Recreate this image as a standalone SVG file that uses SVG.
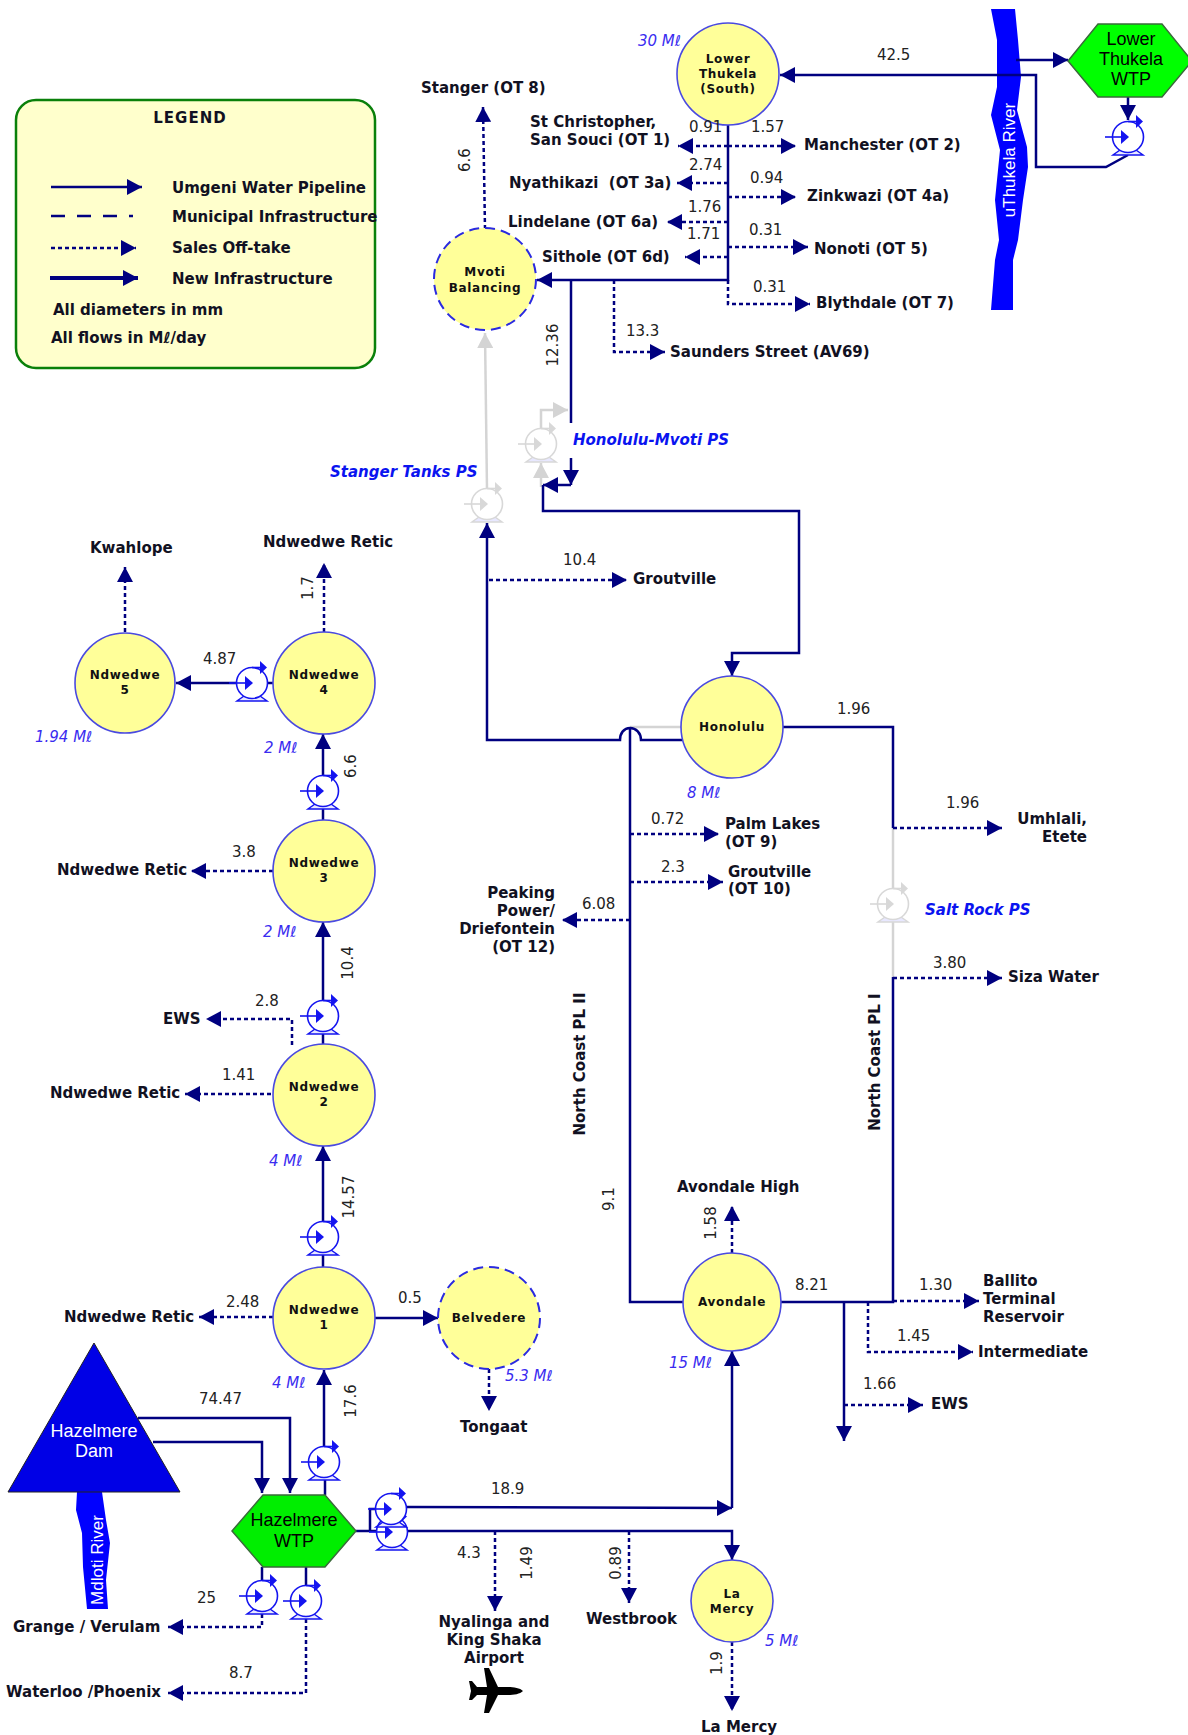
<svg xmlns="http://www.w3.org/2000/svg" xmlns:xlink="http://www.w3.org/1999/xlink" width="1188" height="1735" viewBox="0 0 1188 1735">
<style>
text{font-family:"DejaVu Sans","Liberation Sans",sans-serif}
.l{font-weight:bold;font-size:15px;fill:#111122}
.nl{font-weight:bold;font-size:12px;fill:#111;text-anchor:middle;letter-spacing:.7px}
.n{font-size:15px;fill:#222}
.nr{font-size:15px;fill:#222;text-anchor:middle}
.v{font-style:italic;font-size:15px;fill:#3a2cf0}
.ps{font-style:italic;font-weight:bold;font-size:15px;fill:#0a14f0}
.hx{font-family:"Liberation Sans",Arial,sans-serif;font-size:18px;fill:#000;text-anchor:middle}
.wh{font-family:"Liberation Sans",Arial,sans-serif;font-size:18px;fill:#fff;text-anchor:middle}
.s{fill:none;stroke:#000080;stroke-width:2.5}
.t{fill:none;stroke:#000080;stroke-width:4}
.d{fill:none;stroke:#000080;stroke-width:2.5;stroke-dasharray:4 3}
.g{fill:none;stroke:#d4d4d4;stroke-width:2.5}
.res{fill:#ffff99;stroke:#4a4ae0;stroke-width:1.6}
.resd{fill:#ffff99;stroke:#2a2ae0;stroke-width:2;stroke-dasharray:10 6}
.pb{color:#1414f0}
.pg{color:#d8d8d8}
</style>
<defs>
<marker id="a" markerUnits="userSpaceOnUse" markerWidth="16" markerHeight="16" refX="15" refY="8" orient="auto"><path d="M0,0L15,8L0,16Z" fill="#000080"/></marker>
<marker id="ag" markerUnits="userSpaceOnUse" markerWidth="16" markerHeight="16" refX="15" refY="8" orient="auto"><path d="M0,0L15,8L0,16Z" fill="#d4d4d4"/></marker>
<g id="pump">
<path d="M-8,13L-15,18H15L8,13" fill="#e8e8ff" stroke="currentColor" stroke-width="1.5"/>
<circle r="15.5" fill="#fff" stroke="currentColor" stroke-width="1.6"/>
<path d="M-23,0H-5" stroke="currentColor" stroke-width="1.6" fill="none"/>
<path d="M-7,-7L1,0L-7,7Z" fill="currentColor"/>
<path d="M0,-15.5H9" stroke="currentColor" stroke-width="1.6" fill="none"/>
<path d="M8,-22L15,-15.5L8,-9Z" fill="currentColor"/>
</g>
</defs>
<rect width="1188" height="1735" fill="#fff"/>

<g id="river-uthukela"><path d="M991,9L997,40L997,87L991,115L1000,150L995,200L999,240L995,260L991,310L1013,310L1013,260L1018,240L1023,200L1028,167L1027,147L1017,110L1021,77L1018,40L1015,9Z" fill="#0000ff"/><text transform="rotate(-90 1015 160)" x="1015" y="160" style="font-family:'Liberation Sans',sans-serif;font-size:17px;fill:#fff;text-anchor:middle">uThukela River</text></g>
<g id="river-mdloti"><path d="M77,1492L76,1510L82,1533L83,1567L87,1609L108,1609L106,1580L110,1543L106,1520L102,1492Z" fill="#0000ff"/><text transform="rotate(-90 103 1560)" x="103" y="1560" style="font-family:'Liberation Sans',sans-serif;font-size:17px;fill:#fff;text-anchor:middle">Mdloti River</text></g>

<g id="connectors">
<path class="g" d="M487,490L485,333" marker-end="url(#ag)"/>
<path class="g" d="M541,429V410H568" marker-end="url(#ag)"/>
<path class="g" d="M541,487V463" marker-end="url(#ag)"/>
<path class="g" d="M630,727H682"/>
<path class="g" d="M893,828V977"/>
<path class="s" d="M728,125V280H537" marker-end="url(#a)"/>
<path class="s" d="M571,280V423"/>
<path class="s" d="M571,458V485" marker-end="url(#a)"/>
<path class="s" d="M571,485H543" marker-end="url(#a)"/>
<path class="s" d="M543,485V511H799V653H732V676" marker-end="url(#a)"/>
<path class="s" d="M682,740H641C641,733 636,728 630,728C624,728 620,733 620,740H487V523" marker-end="url(#a)"/>
<path class="s" d="M630,727V1302H686"/>
<path class="s" d="M783,727H893V828"/>
<path class="s" d="M893,977V1302H781"/>
<path class="s" d="M844,1302V1441" marker-end="url(#a)"/>
<path class="s" d="M1016,60H1068" marker-end="url(#a)"/>
<path class="s" d="M1128,97V120" marker-end="url(#a)"/>
<path class="s" d="M1128,155L1106,167H1036V75H780" marker-end="url(#a)"/>
<path class="s" d="M138,1418H290V1493" marker-end="url(#a)"/>
<path class="s" d="M153,1442H262V1493" marker-end="url(#a)"/>
<path class="s" d="M325,1495V1480"/>
<path class="s" d="M324,1447V1370" marker-end="url(#a)"/>
<path class="s" d="M356,1531H732V1560" marker-end="url(#a)"/>
<path class="s" d="M370,1531V1509H384"/>
<path class="s" d="M406,1507L732,1508" marker-end="url(#a)"/>
<path class="s" d="M732,1508V1351" marker-end="url(#a)"/>
<path class="s" d="M262,1567V1581"/>
<path class="s" d="M306,1567V1586"/>
<path class="s" d="M237,683H176" marker-end="url(#a)"/>
<path class="s" d="M273,683H267"/>
<path class="s" d="M323,776V734" marker-end="url(#a)"/>
<path class="s" d="M323,809V820"/>
<path class="s" d="M323,1001V922" marker-end="url(#a)"/>
<path class="s" d="M323,1034V1044"/>
<path class="s" d="M323,1222V1146" marker-end="url(#a)"/>
<path class="s" d="M323,1255V1267"/>
<path class="s" d="M375,1318H438" marker-end="url(#a)"/>
<path class="d" d="M728,146H678" marker-end="url(#a)"/>
<path class="d" d="M728,146H796" marker-end="url(#a)"/>
<path class="d" d="M728,183H677" marker-end="url(#a)"/>
<path class="d" d="M728,197H796" marker-end="url(#a)"/>
<path class="d" d="M728,222H667" marker-end="url(#a)"/>
<path class="d" d="M728,257H685" marker-end="url(#a)"/>
<path class="d" d="M728,247H808" marker-end="url(#a)"/>
<path class="d" d="M728,280V304H810" marker-end="url(#a)"/>
<path class="d" d="M614,280V352H665" marker-end="url(#a)"/>
<path class="d" d="M485,229L483,107" marker-end="url(#a)"/>
<path class="d" d="M489,580H627" marker-end="url(#a)"/>
<path class="d" d="M324,632V563" marker-end="url(#a)"/>
<path class="d" d="M125,632V567" marker-end="url(#a)"/>
<path class="d" d="M273,871H191" marker-end="url(#a)"/>
<path class="d" d="M292,1045V1019H206" marker-end="url(#a)"/>
<path class="d" d="M271,1094H185" marker-end="url(#a)"/>
<path class="d" d="M273,1317H199" marker-end="url(#a)"/>
<path class="d" d="M489,1369V1411" marker-end="url(#a)"/>
<path class="d" d="M732,1253V1206" marker-end="url(#a)"/>
<path class="d" d="M630,834H719" marker-end="url(#a)"/>
<path class="d" d="M630,882H723" marker-end="url(#a)"/>
<path class="d" d="M630,920H562" marker-end="url(#a)"/>
<path class="d" d="M893,828H1002" marker-end="url(#a)"/>
<path class="d" d="M893,978H1002" marker-end="url(#a)"/>
<path class="d" d="M893,1301H979" marker-end="url(#a)"/>
<path class="d" d="M868,1302V1352H973" marker-end="url(#a)"/>
<path class="d" d="M844,1405H923" marker-end="url(#a)"/>
<path class="d" d="M495,1531V1611" marker-end="url(#a)"/>
<path class="d" d="M629,1531V1603" marker-end="url(#a)"/>
<path class="d" d="M732,1642V1711" marker-end="url(#a)"/>
<path class="d" d="M262,1614V1627H168" marker-end="url(#a)"/>
<path class="d" d="M306,1619V1693H168" marker-end="url(#a)"/>
</g>

<g id="pumps">
<use xlink:href="#pump" href="#pump" class="pb" x="1128" y="137"/>
<use xlink:href="#pump" href="#pump" class="pg" x="541" y="444"/>
<use xlink:href="#pump" href="#pump" class="pg" x="487" y="504"/>
<use xlink:href="#pump" href="#pump" class="pg" x="893" y="904"/>
<use xlink:href="#pump" href="#pump" class="pb" x="252" y="683"/>
<use xlink:href="#pump" href="#pump" class="pb" x="323" y="791"/>
<use xlink:href="#pump" href="#pump" class="pb" x="323" y="1016"/>
<use xlink:href="#pump" href="#pump" class="pb" x="323" y="1237"/>
<use xlink:href="#pump" href="#pump" class="pb" x="324" y="1462"/>
<use xlink:href="#pump" href="#pump" class="pb" x="392" y="1532"/>
<use xlink:href="#pump" href="#pump" class="pb" x="391" y="1509"/>
<use xlink:href="#pump" href="#pump" class="pb" x="262" y="1596"/>
<use xlink:href="#pump" href="#pump" class="pb" x="306" y="1601"/>
</g>

<g id="legend">
<rect x="16" y="100" width="359" height="268" rx="20" fill="#ffffcc" stroke="#0a800a" stroke-width="2.5"/>
<path class="s" d="M51,187H142" marker-end="url(#a)"/>
<path class="s" d="M51,216H133" stroke-dasharray="14 12"/>
<path class="d" d="M51,248H136" marker-end="url(#a)"/>
<path class="t" d="M50,278H138" marker-end="url(#a)"/>
<text class="l" x="190" y="123" text-anchor="middle" letter-spacing="1">LEGEND</text>
<text class="l" x="172" y="193">Umgeni Water Pipeline</text>
<text class="l" x="172" y="222">Municipal Infrastructure</text>
<text class="l" x="172" y="253">Sales Off-take</text>
<text class="l" x="172" y="284">New Infrastructure</text>
<text class="l" x="53" y="315">All diameters in mm</text>
<text class="l" x="51" y="343">All flows in Mℓ/day</text>
</g>

<g id="node-lower-thukela"><circle class="res" cx="728" cy="74" r="51"/><text class="nl" x="728" y="63">Lower</text><text class="nl" x="728" y="78">Thukela</text><text class="nl" x="728" y="93">(South)</text></g>
<g id="node-mvoti"><circle class="resd" cx="485" cy="279" r="51"/><text class="nl" x="485" y="276">Mvoti</text><text class="nl" x="485" y="292">Balancing</text></g>
<g id="node-honolulu"><circle class="res" cx="732" cy="727" r="51"/><text class="nl" x="732" y="731">Honolulu</text></g>
<g id="node-ndwedwe-5"><circle class="res" cx="125" cy="683" r="50"/><text class="nl" x="125" y="679">Ndwedwe</text><text class="nl" x="125" y="694">5</text></g>
<g id="node-ndwedwe-4"><circle class="res" cx="324" cy="683" r="51"/><text class="nl" x="324" y="679">Ndwedwe</text><text class="nl" x="324" y="694">4</text></g>
<g id="node-ndwedwe-3"><circle class="res" cx="324" cy="871" r="51"/><text class="nl" x="324" y="867">Ndwedwe</text><text class="nl" x="324" y="882">3</text></g>
<g id="node-ndwedwe-2"><circle class="res" cx="324" cy="1095" r="51"/><text class="nl" x="324" y="1091">Ndwedwe</text><text class="nl" x="324" y="1106">2</text></g>
<g id="node-ndwedwe-1"><circle class="res" cx="324" cy="1318" r="51"/><text class="nl" x="324" y="1314">Ndwedwe</text><text class="nl" x="324" y="1329">1</text></g>
<g id="node-belvedere"><circle class="resd" cx="489" cy="1318" r="51"/><text class="nl" x="489" y="1322">Belvedere</text></g>
<g id="node-avondale"><circle class="res" cx="732" cy="1302" r="49"/><text class="nl" x="732" y="1306">Avondale</text></g>
<g id="node-la-mercy"><circle class="res" cx="732" cy="1601" r="41"/><text class="nl" x="732" y="1598">La</text><text class="nl" x="732" y="1613">Mercy</text></g>
<g id="node-lower-thukela-wtp"><path d="M1068,61L1098,24H1162L1192,61L1162,97H1098Z" fill="#00ff00" stroke="#3a6a3a" stroke-width="1.5"/><text class="hx" x="1131" y="45">Lower</text><text class="hx" x="1131" y="65">Thukela</text><text class="hx" x="1131" y="85">WTP</text></g>
<g id="node-hazelmere-wtp"><path d="M232,1531L263,1495H325L356,1531L325,1567H263Z" fill="#00ee00" stroke="#3a6a3a" stroke-width="1.5"/><text class="hx" x="294" y="1526">Hazelmere</text><text class="hx" x="294" y="1547">WTP</text></g>
<g id="node-hazelmere-dam"><path d="M94,1343L180,1492H8Z" fill="#0000e6" stroke="#222" stroke-width="1"/><text class="wh" x="94" y="1437">Hazelmere</text><text class="wh" x="94" y="1457">Dam</text></g>
<g id="airplane"><path d="M523,1691C520,1688 514,1687 508,1687H498L489,1668H484L487,1687H477L472,1681H469L471,1691L469,1700H472L477,1695H487L484,1713H489L498,1695H508C514,1695 520,1694 523,1691Z" fill="#000"/></g>

<g id="labels">
<text class="l" x="421" y="93">Stanger (OT 8)</text>
<text class="l" x="530" y="127">St Christopher,</text>
<text class="l" x="530" y="145">San Souci (OT 1)</text>
<text class="l" x="509" y="188">Nyathikazi &#160;(OT 3a)</text>
<text class="l" x="508" y="227">Lindelane (OT 6a)</text>
<text class="l" x="542" y="262">Sithole (OT 6d)</text>
<text class="l" x="804" y="150">Manchester (OT 2)</text>
<text class="l" x="807" y="201">Zinkwazi (OT 4a)</text>
<text class="l" x="814" y="254">Nonoti (OT 5)</text>
<text class="l" x="816" y="308">Blythdale (OT 7)</text>
<text class="l" x="670" y="357">Saunders Street (AV69)</text>
<text class="l" x="633" y="584">Groutville</text>
<text class="l" x="90" y="553">Kwahlope</text>
<text class="l" x="263" y="547">Ndwedwe Retic</text>
<text class="l" x="725" y="829">Palm Lakes</text>
<text class="l" x="725" y="847">(OT 9)</text>
<text class="l" x="728" y="877">Groutville</text>
<text class="l" x="728" y="894">(OT 10)</text>
<text class="l" x="1087" y="824" text-anchor="end">Umhlali,</text>
<text class="l" x="1087" y="842" text-anchor="end">Etete</text>
<text class="l" x="1008" y="982">Siza Water</text>
<text class="l" x="555" y="898" text-anchor="end">Peaking</text>
<text class="l" x="555" y="916" text-anchor="end">Power/</text>
<text class="l" x="555" y="934" text-anchor="end">Driefontein</text>
<text class="l" x="555" y="952" text-anchor="end">(OT 12)</text>
<text class="l" transform="rotate(-90 585 1064)" x="585" y="1064" text-anchor="middle">North Coast PL II</text>
<text class="l" transform="rotate(-90 880 1062)" x="880" y="1062" text-anchor="middle">North Coast PL I</text>
<text class="l" x="677" y="1192">Avondale High</text>
<text class="l" x="983" y="1286">Ballito</text>
<text class="l" x="983" y="1304">Terminal</text>
<text class="l" x="983" y="1322">Reservoir</text>
<text class="l" x="978" y="1357">Intermediate</text>
<text class="l" x="931" y="1409">EWS</text>
<text class="l" x="460" y="1432">Tongaat</text>
<text class="l" x="494" y="1627" text-anchor="middle">Nyalinga and</text>
<text class="l" x="494" y="1645" text-anchor="middle">King Shaka</text>
<text class="l" x="494" y="1663" text-anchor="middle">Airport</text>
<text class="l" x="586" y="1624">Westbrook</text>
<text class="l" x="701" y="1732">La Mercy</text>
<text class="l" x="13" y="1632">Grange / Verulam</text>
<text class="l" x="6" y="1697">Waterloo /Phoenix</text>
<text class="l" x="57" y="875">Ndwedwe Retic</text>
<text class="l" x="163" y="1024">EWS</text>
<text class="l" x="50" y="1098">Ndwedwe Retic</text>
<text class="l" x="64" y="1322">Ndwedwe Retic</text>
<text class="ps" x="573" y="445">Honolulu-Mvoti PS</text>
<text class="ps" x="330" y="477">Stanger Tanks PS</text>
<text class="ps" x="925" y="915">Salt Rock PS</text>
<text class="n" x="689" y="132">0.91</text>
<text class="n" x="751" y="132">1.57</text>
<text class="n" x="689" y="170">2.74</text>
<text class="n" x="750" y="183">0.94</text>
<text class="n" x="688" y="212">1.76</text>
<text class="n" x="687" y="239">1.71</text>
<text class="n" x="749" y="235">0.31</text>
<text class="n" x="753" y="292">0.31</text>
<text class="n" x="626" y="336">13.3</text>
<text class="n" x="877" y="60">42.5</text>
<text class="n" x="563" y="565">10.4</text>
<text class="n" x="203" y="664">4.87</text>
<text class="n" x="232" y="857">3.8</text>
<text class="n" x="255" y="1006">2.8</text>
<text class="n" x="222" y="1080">1.41</text>
<text class="n" x="226" y="1307">2.48</text>
<text class="n" x="398" y="1303">0.5</text>
<text class="n" x="199" y="1404">74.47</text>
<text class="n" x="197" y="1603">25</text>
<text class="n" x="229" y="1678">8.7</text>
<text class="n" x="491" y="1494">18.9</text>
<text class="n" x="457" y="1558">4.3</text>
<text class="n" x="795" y="1290">8.21</text>
<text class="n" x="919" y="1290">1.30</text>
<text class="n" x="897" y="1341">1.45</text>
<text class="n" x="863" y="1389">1.66</text>
<text class="n" x="837" y="714">1.96</text>
<text class="n" x="946" y="808">1.96</text>
<text class="n" x="933" y="968">3.80</text>
<text class="n" x="651" y="824">0.72</text>
<text class="n" x="661" y="872">2.3</text>
<text class="n" x="582" y="909">6.08</text>
<text class="nr" transform="rotate(-90 470 160)" x="470" y="160">6.6</text>
<text class="nr" transform="rotate(-90 558 345)" x="558" y="345">12.36</text>
<text class="nr" transform="rotate(-90 313 588)" x="313" y="588">1.7</text>
<text class="nr" transform="rotate(-90 356 766)" x="356" y="766">6.6</text>
<text class="nr" transform="rotate(-90 353 963)" x="353" y="963">10.4</text>
<text class="nr" transform="rotate(-90 354 1197)" x="354" y="1197">14.57</text>
<text class="nr" transform="rotate(-90 356 1401)" x="356" y="1401">17.6</text>
<text class="nr" transform="rotate(-90 532 1563)" x="532" y="1563">1.49</text>
<text class="nr" transform="rotate(-90 621 1563)" x="621" y="1563">0.89</text>
<text class="nr" transform="rotate(-90 722 1663)" x="722" y="1663">1.9</text>
<text class="nr" transform="rotate(-90 614 1199)" x="614" y="1199">9.1</text>
<text class="nr" transform="rotate(-90 716 1223)" x="716" y="1223">1.58</text>
<text class="v" x="638" y="46">30 Mℓ</text>
<text class="v" x="687" y="798">8 Mℓ</text>
<text class="v" x="35" y="742">1.94 Mℓ</text>
<text class="v" x="264" y="753">2 Mℓ</text>
<text class="v" x="263" y="937">2 Mℓ</text>
<text class="v" x="269" y="1166">4 Mℓ</text>
<text class="v" x="272" y="1388">4 Mℓ</text>
<text class="v" x="505" y="1381">5.3 Mℓ</text>
<text class="v" x="669" y="1368">15 Mℓ</text>
<text class="v" x="765" y="1646">5 Mℓ</text>
</g>
</svg>
